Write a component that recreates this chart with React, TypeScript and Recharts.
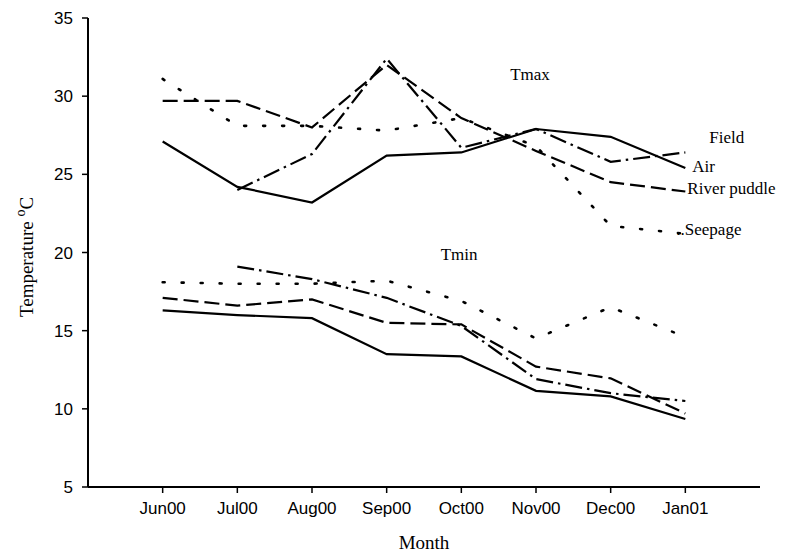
import React from 'react';
import { LineChart, Line, XAxis, YAxis, ReferenceDot, LabelList, Label } from 'recharts';

const months = ['Jun00', 'Jul00', 'Aug00', 'Sep00', 'Oct00', 'Nov00', 'Dec00', 'Jan01'];
const yTicks = [5, 10, 15, 20, 25, 30, 35];

// Tmax
const airMax = [27.1, 24.2, 23.2, 26.2, 26.4, 27.9, 27.4, 25.4];
const fieldMax = [null, 24.0, 26.3, 32.4, 26.7, 27.9, 25.8, 26.4];
const puddleMax = [29.7, 29.7, 28.0, 32.0, 28.6, 26.5, 24.5, 23.9];
const seepageMax = [31.1, 28.1, 28.1, 27.8, 28.6, 26.8, 21.7, 21.2];

// Tmin
const airMin = [16.3, 16.0, 15.8, 13.5, 13.35, 11.15, 10.8, 9.35];
const fieldMin = [null, 19.1, 18.3, 17.1, 15.3, 11.9, 11.0, 10.5];
const puddleMin = [17.1, 16.6, 17.0, 15.5, 15.4, 12.7, 11.95, 9.7];
const seepageMin = [18.1, 18.0, 18.0, 18.2, 16.9, 14.5, 16.5, 14.6];

const data = months.map((m, i) => ({
  i,
  month: m,
  airMax: airMax[i],
  fieldMax: fieldMax[i],
  puddleMax: puddleMax[i],
  seepageMax: seepageMax[i],
  airMin: airMin[i],
  fieldMin: fieldMin[i],
  puddleMin: puddleMin[i],
  seepageMin: seepageMin[i],
}));

const SERIF = '"Liberation Serif", "Times New Roman", serif';
const SANS = '"Liberation Sans", Arial, sans-serif';

const endLabel = (text: string, dx: number, dy: number) => (props: any) => {
  const { x, y, index } = props;
  if (index !== months.length - 1) return null;
  return (
    <text x={x + dx} y={y + dy} fontFamily={SERIF} fontSize={17} fill="#000" stroke="none" dominantBaseline="middle">
      {text}
    </text>
  );
};

const DASH = '15 6';
const DASHDOT = '17 5 2.5 5';
const DOT = '2 17';

export default function App() {
  return (
    <div style={{ position: 'fixed', left: 0, top: 0, background: '#fff', width: 785, height: 557 }}>
      <LineChart width={785} height={557} data={data} margin={{ top: 18, right: 25, bottom: 0, left: 28 }}>
        <XAxis
          dataKey="i"
          type="number"
          domain={[-1, 8]}
          ticks={[0, 1, 2, 3, 4, 5, 6, 7]}
          tickFormatter={(v: number) => months[v]}
          height={70}
          axisLine={{ stroke: '#000', strokeWidth: 2 }}
          tickLine={{ stroke: '#000', strokeWidth: 1.5 }}
          tickSize={6}
          tickMargin={9}
          tick={{ fill: '#000', fontFamily: SANS, fontSize: 17 }}
        >
          <Label value="Month" position="insideBottom" offset={8} fontFamily={SERIF} fontSize={19} fill="#000" />
        </XAxis>
        <YAxis
          type="number"
          domain={[5, 35]}
          ticks={yTicks}
          width={60}
          axisLine={{ stroke: '#000', strokeWidth: 2 }}
          tickLine={{ stroke: '#000', strokeWidth: 1.5 }}
          tickSize={6}
          tickMargin={9}
          tick={{ fill: '#000', fontFamily: SANS, fontSize: 17 }}
        />

        <Line dataKey="airMax" stroke="#000" strokeWidth={2.2} dot={false} isAnimationActive={false}>
          <LabelList dataKey="airMax" content={endLabel('Air', 7, 0)} />
        </Line>
        <Line dataKey="fieldMax" stroke="#000" strokeWidth={2.2} strokeDasharray={DASHDOT} dot={false} isAnimationActive={false}>
          <LabelList dataKey="fieldMax" content={endLabel('Field', 24, -13)} />
        </Line>
        <Line dataKey="puddleMax" stroke="#000" strokeWidth={2.2} strokeDasharray={DASH} dot={false} isAnimationActive={false}>
          <LabelList dataKey="puddleMax" content={endLabel('River puddle', 2, -1)} />
        </Line>
        <Line dataKey="seepageMax" stroke="#000" strokeWidth={2.6} strokeLinecap="round" strokeDasharray={DOT} dot={false} isAnimationActive={false}>
          <LabelList dataKey="seepageMax" content={endLabel('..Seepage', -9, -3)} />
        </Line>

        <Line dataKey="airMin" stroke="#000" strokeWidth={2.2} dot={false} isAnimationActive={false} />
        <Line dataKey="fieldMin" stroke="#000" strokeWidth={2.2} strokeDasharray={DASHDOT} dot={false} isAnimationActive={false} />
        <Line dataKey="puddleMin" stroke="#000" strokeWidth={2.2} strokeDasharray={DASH} dot={false} isAnimationActive={false} />
        <Line dataKey="seepageMin" stroke="#000" strokeWidth={2.6} strokeLinecap="round" strokeDasharray={DOT} dot={false} isAnimationActive={false} />

        <ReferenceDot x={4.92} y={31.4} r={0} fill="none" stroke="none" ifOverflow="visible"
          label={{ value: 'Tmax', position: 'center', fontFamily: SERIF, fontSize: 17, fill: '#000' }} />
        <ReferenceDot x={3.97} y={19.9} r={0} fill="none" stroke="none" ifOverflow="visible"
          label={{ value: 'Tmin', position: 'center', fontFamily: SERIF, fontSize: 17, fill: '#000' }} />
      </LineChart>
      <svg width={60} height={557} style={{ position: 'absolute', left: 0, top: 0 }}>
        <text
          transform="translate(33,257) rotate(-90)"
          textAnchor="middle"
          fontFamily={SERIF}
          fontSize={19}
          fill="#000"
          stroke="none"
        >
          Temperature <tspan dy={-8} fontSize={14}>o</tspan>
          <tspan dy={8}>C</tspan>
        </text>
      </svg>
    </div>
  );
}
